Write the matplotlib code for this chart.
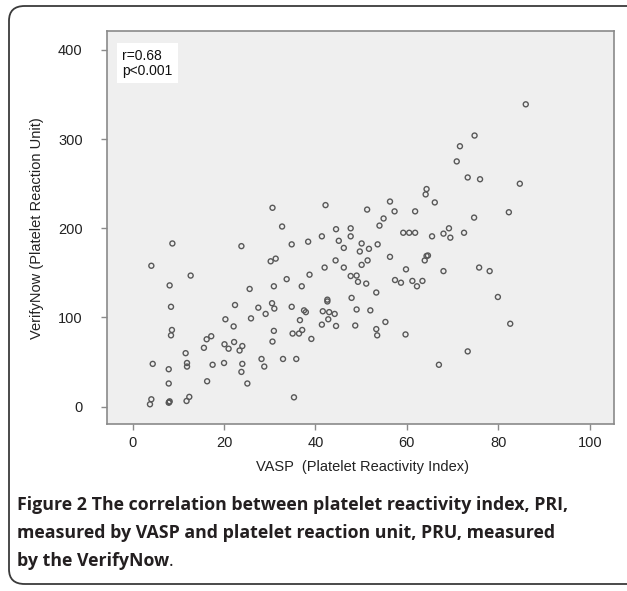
import matplotlib
matplotlib.use("Agg")
import matplotlib.pyplot as plt
from matplotlib.patches import FancyBboxPatch

# VASP (PRI) vs VerifyNow (PRU)
vasp = [8.7, 23.8, 4.1, 30.6, 42.2, 51.3, 54.9, 32.7, 54.0, 44.5,
        47.7, 34.8, 38.4, 41.4, 45.1, 47.7, 46.2, 50.1, 49.7, 51.7,
        53.6, 30.2, 31.3, 44.4, 51.4, 42.0, 46.2, 50.1, 38.7, 33.7,
        25.6, 30.9, 37.0, 47.7, 49.0, 49.3, 51.1, 53.3, 27.5, 30.5,
        31.0, 34.8, 25.9, 29.1, 37.5, 37.9, 36.6, 42.6, 42.6, 41.6,
        43.0, 44.2, 42.8, 41.4, 44.5, 47.9, 49.0, 52.0, 48.7, 53.3,
        53.5, 55.3, 30.9, 30.6, 35.0, 36.4, 37.1, 39.1, 24.0, 23.4,
        28.2, 28.8, 32.9, 35.8, 24.0, 23.8, 25.1, 35.3, 12.7, 8.1,
        8.4, 22.4, 20.3, 22.1, 8.6, 8.4, 17.2, 16.2, 15.6, 20.1,
        21.0, 22.2, 11.6, 11.9, 11.9, 4.4, 7.9, 17.5, 20.0, 7.9,
        16.3, 4.1, 3.8, 8.0, 8.1, 7.9, 12.4, 11.8, 74.8, 71.6,
        70.9, 73.3, 76.0, 84.7, 64.3, 64.1, 66.1, 56.3, 57.3, 61.8,
        82.3, 74.7, 59.2, 60.5, 61.8, 65.5, 68.0, 69.2, 69.5, 72.5,
        56.3, 64.3, 64.6, 63.9, 59.8, 68.0, 75.8, 78.1, 79.9, 82.6,
        57.4, 58.7, 61.2, 62.2, 63.4, 59.7, 73.3, 67.0, 86.0]
pru = [183, 180, 158, 223, 226, 221, 211, 202, 203, 199,
       200, 182, 185, 191, 186, 191, 178, 183, 174, 177,
       182, 163, 166, 164, 164, 156, 156, 159, 148, 143,
       132, 135, 135, 146.5, 147, 140, 138, 128, 111, 116,
       110, 112, 99, 104, 108, 106, 97, 120, 118, 107,
       106, 104, 98, 92, 90.5, 122, 109, 108, 91, 87,
       80, 95, 85, 73, 82, 82, 86, 76, 68, 63,
       53.5, 45, 53.5, 53.5, 48, 39, 26, 10.5, 147, 136,
       112, 114, 98, 90, 86, 80, 79, 75.6, 66, 70,
       65, 72.5, 60, 49, 45, 48, 42, 47, 49, 26,
       28.5, 8.3, 2.7, 5, 6, 4.5, 11, 6.4, 304, 292,
       275, 257, 255, 250, 244, 238, 229, 230, 219, 219,
       218, 212, 195, 195, 195, 191, 194, 200, 189.5, 195,
       168, 169, 169.5, 164, 154, 152, 156, 152, 123, 93,
       142, 139, 141, 135, 141, 81, 62, 47, 339]

x_ticks = [0, 20, 40, 60, 80, 100]
y_ticks = [0, 100, 200, 300, 400]

W, H = 627, 591
fig = plt.figure(figsize=(W / 100, H / 100), dpi=100)
fig.patch.set_facecolor("white")

# rounded frame around figure + caption
frame = FancyBboxPatch((9 / W, 7 / H), 660 / W, 578 / H,
                       boxstyle="round,pad=0,rounding_size=0.025",
                       transform=fig.transFigure, facecolor="none",
                       edgecolor="#3a3a3a", linewidth=1.3, clip_on=False)
fig.patches.append(frame)

ax = fig.add_axes([107 / W, 1 - 424 / H, 507 / W, 393 / H])
ax.set_facecolor("#efefef")
ax.scatter(vasp, pru, s=13, facecolors="none", edgecolors="#585858",
           linewidths=1.0, zorder=3)

ax.set_xlim(-5.6, 105.3)
ax.set_ylim(-19.4, 421.2)
ax.set_xticks(x_ticks)
ax.set_yticks(y_ticks)
for sp in ax.spines.values():
    sp.set_color("#8a8a8a")
    sp.set_linewidth(1.2)
ax.tick_params(axis="both", direction="out", length=4.5, width=1.0,
               color="#8a8a8a", labelsize=10.5, labelcolor="#222222")
ax.tick_params(axis="y", pad=13)
ax.tick_params(axis="x", pad=4)
for lab in ax.get_xticklabels() + ax.get_yticklabels():
    lab.set_fontfamily("Liberation Sans")

ax.text(0.03, 0.955, "r=0.68\np<0.001", transform=ax.transAxes,
        ha="left", va="top", fontsize=10, family="Liberation Sans",
        color="#111111", linespacing=1.1,
        bbox=dict(facecolor="white", edgecolor="none", pad=4))

fig.text(362 / W, 1 - 467 / H, "VASP  (Platelet Reactivity Index)",
         ha="center", va="center", fontsize=10.5, family="Liberation Sans",
         color="#222222")
fig.text(37 / W, 1 - 228 / H, "VerifyNow (Platelet Reaction Unit)",
         ha="center", va="center", rotation=90, fontsize=10.5,
         family="Liberation Sans", color="#222222")

# caption
cap_kw = dict(fontsize=12.8, family="Open Sans", color="#231f20",
              fontweight="bold")
fig.text(17 / W, 1 - 505 / H,
         "Figure 2 The correlation between platelet reactivity index, PRI,",
         ha="left", va="center", **cap_kw)
fig.text(17 / W, 1 - 533 / H,
         "measured by VASP and platelet reaction unit, PRU, measured",
         ha="left", va="center", **cap_kw)
t3 = fig.text(17 / W, 1 - 561 / H, "by the VerifyNow",
              ha="left", va="center", **cap_kw)
ax.annotate(".", xy=(1, 0), xycoords=t3, ha="left", va="bottom",
            fontsize=12.8, family="Open Sans", color="#231f20")

fig.savefig("out.png", dpi=100)
